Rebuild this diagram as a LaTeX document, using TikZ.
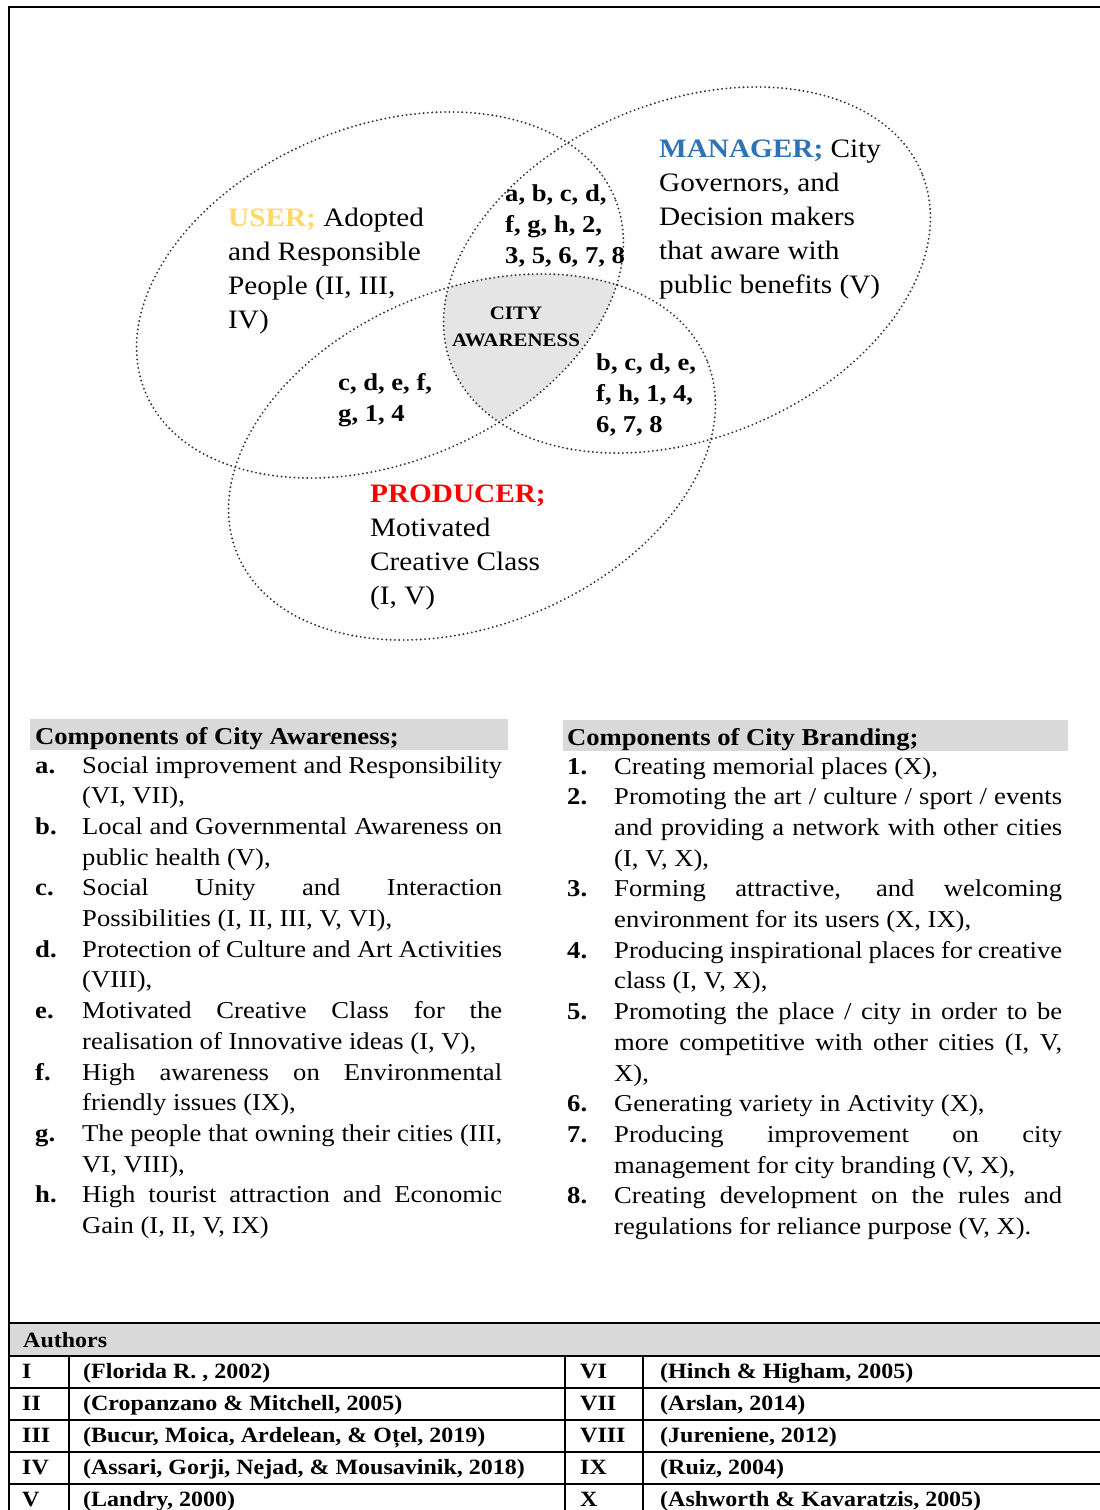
\documentclass[tikz,border=0pt]{standalone}
\usepackage{fontspec}
\setmainfont{Liberation Serif}[FakeStretch=1.1]
\definecolor{usery}{HTML}{FFD966}
\definecolor{mgrblue}{HTML}{2E74B5}
\definecolor{prodred}{HTML}{FF0000}
\definecolor{shadegray}{HTML}{E5E5E5}
\definecolor{hdrgray}{HTML}{D9D9D9}
\definecolor{dotc}{HTML}{333333}
\newdimen\jw
\newcommand\Li[2]{\hbox{\hbox to 47pt{\bfseries #1\hfil}\hbox to \jw{#2}}}
\newcommand\Ln[2]{\hbox{\hbox to 47pt{\bfseries #1\hfil}#2}}
\newcommand\Lj[1]{\hbox{\hskip47pt\hbox to \jw{#1}}}
\newcommand\Lc[1]{\hbox{\hskip47pt #1}}
\newcommand\mlines[2]{\vtop{\baselineskip=#1\lineskiplimit=-100pt\lineskip=0pt\relax #2}}
\begin{document}
\begin{tikzpicture}[x=1pt,y=-1pt,
  venn/.style={draw=dotc, line width=2.1pt, dash pattern=on 0pt off 4.3pt, line cap=round},
  bigtxt/.style={anchor=base west, inner sep=0pt, font=\fontsize{26.6}{34}\selectfont},
  boldtxt/.style={anchor=base west, inner sep=0pt, font=\fontsize{24.2}{31}\selectfont\bfseries},
  listtxt/.style={anchor=base west, inner sep=0pt, font=\fontsize{24.2}{30.7}\selectfont},
  tabtxt/.style={anchor=base west, inner sep=0pt, font=\fontsize{21.8}{26}\selectfont\bfseries},
  rule/.style={line width=1.8pt}]
\useasboundingbox (0,0) rectangle (1100,1510);
% frame
\draw[line width=2.2pt] (9,1510) -- (9,7) -- (1100,7);
% Venn centres
\coordinate (cU) at (380,295);
\coordinate (cM) at (687,270);
\coordinate (cP) at (472,457);
% shaded triple intersection
\begin{scope}
  \clip[rotate around={22.4:(cU)}] (cU) ellipse [x radius=254pt, y radius=168pt];
  \clip[rotate around={22.4:(cM)}] (cM) ellipse [x radius=254pt, y radius=168pt];
  \fill[shadegray, rotate around={22.4:(cP)}] (cP) ellipse [x radius=254pt, y radius=168pt];
\end{scope}
\draw[venn, rotate around={22.4:(cU)}] (cU) ellipse [x radius=254pt, y radius=168pt];
\draw[venn, rotate around={22.4:(cM)}] (cM) ellipse [x radius=254pt, y radius=168pt];
\draw[venn, rotate around={22.4:(cP)}] (cP) ellipse [x radius=254pt, y radius=168pt];
% Venn labels
\node[bigtxt] (user) at (228,226) {\mlines{34pt}{%
  \hbox{\textcolor{usery}{\bfseries USER;} Adopted}
  \hbox{and Responsible}
  \hbox{People (II, III,}
  \hbox{IV)}}};
\node[bigtxt] (manager) at (659,157) {\mlines{34pt}{%
  \hbox{\textcolor{mgrblue}{\bfseries MANAGER;} City}
  \hbox{Governors, and}
  \hbox{Decision makers}
  \hbox{that aware with}
  \hbox{public benefits (V)}}};
\node[bigtxt] (producer) at (370,502) {\mlines{34pt}{%
  \hbox{\textcolor{prodred}{\bfseries PRODUCER;}}
  \hbox{Motivated}
  \hbox{Creative Class}
  \hbox{(I, V)}}};
\node[boldtxt] (um) at (505,201) {\mlines{31pt}{%
  \hbox{a, b, c, d,}
  \hbox{f, g, h, 2,}
  \hbox{3, 5, 6, 7, 8}}};
\node[boldtxt] (up) at (338,390) {\mlines{31pt}{%
  \hbox{c, d, e, f,}
  \hbox{g, 1, 4}}};
\node[boldtxt] (mp) at (596,370) {\mlines{31pt}{%
  \hbox{b, c, d, e,}
  \hbox{f, h, 1, 4,}
  \hbox{6, 7, 8}}};
\node[anchor=base, inner sep=0pt, font=\fontsize{19}{27}\selectfont\bfseries] (aware) at (516,319) {\mlines{27pt}{%
  \hbox to 150pt{\hss CITY\hss}
  \hbox to 150pt{\hss AWARENESS\hss}}};
% headings
\fill[hdrgray] (30,719) rectangle (508,750);
\fill[hdrgray] (563,720) rectangle (1068,751);
\node[listtxt, font=\fontsize{24.2}{30.7}\selectfont\bfseries] (hawl) at (35,744) {Components of City Awareness;};
\node[listtxt, font=\fontsize{24.2}{30.7}\selectfont\bfseries] (hbr) at (567,745) {Components of City Branding;};
% left list
\node[listtxt] (awlist) at (35,773) {\mlines{30.7pt}{\jw=420pt
  \Li{a.}{Social improvement and Responsibility}
  \Lc{(VI, VII),}
  \Li{b.}{Local and Governmental Awareness on}
  \Lc{public health (V),}
  \Li{c.}{Social Unity and Interaction}
  \Lc{Possibilities (I, II, III, V, VI),}
  \Li{d.}{Protection of Culture and Art Activities}
  \Lc{(VIII),}
  \Li{e.}{Motivated Creative Class for the}
  \Lc{realisation of Innovative ideas (I, V),}
  \Li{f.}{High awareness on Environmental}
  \Lc{friendly issues (IX),}
  \Li{g.}{The people that owning their cities (III,}
  \Lc{VI, VIII),}
  \Li{h.}{High tourist attraction and Economic}
  \Lc{Gain (I, II, V, IX)}}};
% right list
\node[listtxt] (brlist) at (567,774) {\mlines{30.7pt}{\jw=448pt
  \Ln{1.}{Creating memorial places (X),}
  \Li{2.}{Promoting the art / culture / sport / events}
  \Lj{and providing a network with other cities}
  \Lc{(I, V, X),}
  \Li{3.}{Forming attractive, and welcoming}
  \Lc{environment for its users (X, IX),}
  \Li{4.}{Producing inspirational places for creative}
  \Lc{class (I, V, X),}
  \Li{5.}{Promoting the place / city in order to be}
  \Lj{more competitive with other cities (I, V,}
  \Lc{X),}
  \Ln{6.}{Generating variety in Activity (X),}
  \Li{7.}{Producing improvement on city}
  \Lc{management for city branding (V, X),}
  \Li{8.}{Creating development on the rules and}
  \Lc{regulations for reliance purpose (V, X).}}};
% authors table
\fill[hdrgray] (9,1323) rectangle (1100,1356);
\foreach \yy in {1323,1356,1388,1420,1452,1484} \draw[rule] (9,\yy) -- (1100,\yy);
\foreach \xx in {69,565,643} \draw[rule] (\xx,1356) -- (\xx,1510);
\draw[line width=2.2pt] (9,1510) -- (9,1323);
\node[tabtxt] (auth) at (23,1347) {Authors};
\node[tabtxt] (r1a) at (22,1378) {I};
\node[tabtxt] (r1b) at (83,1378) {(Florida R. , 2002)};
\node[tabtxt] (r2a) at (22,1410) {II};
\node[tabtxt] (r2b) at (83,1410) {(Cropanzano \& Mitchell, 2005)};
\node[tabtxt] (r3a) at (22,1442) {III};
\node[tabtxt] (r3b) at (83,1442) {(Bucur, Moica, Ardelean, \& Oțel, 2019)};
\node[tabtxt] (r4a) at (22,1474) {IV};
\node[tabtxt] (r4b) at (83,1474) {(Assari, Gorji, Nejad, \& Mousavinik, 2018)};
\node[tabtxt] (r5a) at (22,1506) {V};
\node[tabtxt] (r5b) at (83,1506) {(Landry, 2000)};
\node[tabtxt] (r6a) at (580,1378) {VI};
\node[tabtxt] (r6b) at (660,1378) {(Hinch \& Higham, 2005)};
\node[tabtxt] (r7a) at (580,1410) {VII};
\node[tabtxt] (r7b) at (660,1410) {(Arslan, 2014)};
\node[tabtxt] (r8a) at (580,1442) {VIII};
\node[tabtxt] (r8b) at (660,1442) {(Jureniene, 2012)};
\node[tabtxt] (r9a) at (580,1474) {IX};
\node[tabtxt] (r9b) at (660,1474) {(Ruiz, 2004)};
\node[tabtxt] (r10a) at (580,1506) {X};
\node[tabtxt] (r10b) at (660,1506) {(Ashworth \& Kavaratzis, 2005)};
\end{tikzpicture}
\end{document}
